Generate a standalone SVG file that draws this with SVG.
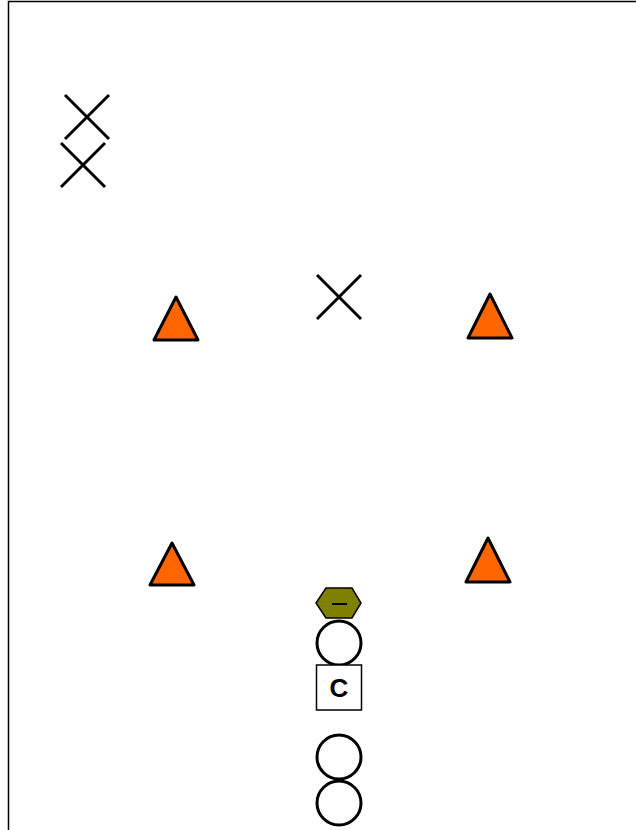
<svg xmlns="http://www.w3.org/2000/svg" width="636" height="830" viewBox="0 0 636 830">
<style>
.x{stroke:#000;stroke-width:3;fill:none}
.tri{fill:#FF6600;stroke:#000;stroke-width:3;stroke-linejoin:round}
.circ{fill:#fff;stroke:#000;stroke-width:3}
</style>
<rect x="0" y="0" width="636" height="830" fill="#fff"/>
<rect x="8.5" y="1.5" width="640" height="840" fill="none" stroke="#000" stroke-width="1.5"/>
<g id="x1"><path class="x" d="M65,95 L109,139 M109,95 L65,139"/></g>
<g id="x2"><path class="x" d="M61,143 L105,187 M105,143 L61,187"/></g>
<g id="x3"><path class="x" d="M317,275 L361,319 M361,275 L317,319"/></g>
<g id="t1"><polygon class="tri" points="176,297 198,340 154,340"/></g>
<g id="t2"><polygon class="tri" points="490,294 512,338 468,338"/></g>
<g id="t3"><polygon class="tri" points="172,543 194,585 150,585"/></g>
<g id="t4"><polygon class="tri" points="488,538 510,582 466,582"/></g>
<g id="hex"><polygon points="316,603 326,588 352,588 361,603 352,618 326,618" fill="#808000" stroke="#000" stroke-width="1.5"/><line x1="332" y1="604" x2="347" y2="604" stroke="#000" stroke-width="2"/></g>
<g id="c1"><circle class="circ" cx="339" cy="643" r="22"/></g>
<g id="sq"><rect x="316.5" y="665" width="45" height="45" fill="#fff" stroke="#000" stroke-width="1.5"/><text x="339" y="697" text-anchor="middle" font-family="Liberation Sans, Arial, sans-serif" font-weight="bold" font-size="26">C</text></g>
<g id="c2"><circle class="circ" cx="339" cy="757" r="22"/></g>
<g id="c3"><circle class="circ" cx="339" cy="803" r="22"/></g>
<g id="connectors"/>
</svg>
